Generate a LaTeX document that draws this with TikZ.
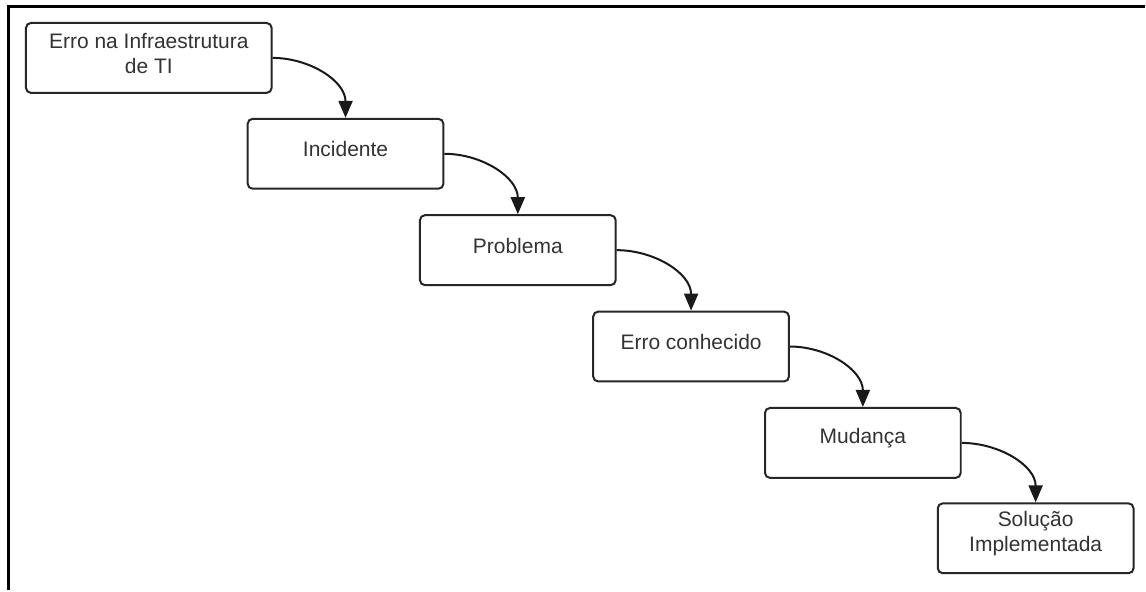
\documentclass[tikz,border=0pt]{standalone}
\usepackage{fontspec}
\setmainfont{Liberation Sans}
\usetikzlibrary{arrows.meta}
\tikzset{
  caixa/.style={draw=black!85, line width=1pt, rounded corners=2.5pt,
    minimum width=98pt, minimum height=35pt, inner sep=0pt},
  rotulo/.style={text=black!80, font=\fontsize{10.5}{12.5}\selectfont,
    align=center, yshift=2.2pt},
  seta/.style={-{Triangle[length=8.5pt,width=7pt]}, line width=1pt, black!90},
}
\begin{document}
\begin{tikzpicture}[x = 0.5pt, y = -0.5pt]
	\fill[white] (0,0) rectangle (1146,591); %fundo
	\draw[line width=1.5pt] (8.5,591) -- (8.5,6.5) -- (1146,6.5); %moldura
	\node[caixa, minimum width=123pt, label={[rotulo]center:Erro na Infraestrutura\\de TI}] (erro) at (149,58) {};
	\node[caixa, label={[rotulo]center:Incidente}] (incidente) at (346,154) {};
	\node[caixa, label={[rotulo]center:Problema}] (problema) at (518.5,250.5) {};
	\node[caixa, label={[rotulo]center:Erro conhecido}] (conhecido) at (692,347) {};
	\node[caixa, label={[rotulo]center:Mudança}] (mudanca) at (864,443.5) {};
	\node[caixa, label={[rotulo]center:Solução\\Implementada}] (solucao) at (1037,539) {};
	\foreach \de/\para in {erro/incidente, incidente/problema, problema/conhecido, conhecido/mudanca, mudanca/solucao}
		\draw[seta] (\de.east) to[out=0, in=90] (\para.north);
\end{tikzpicture}
\end{document}
